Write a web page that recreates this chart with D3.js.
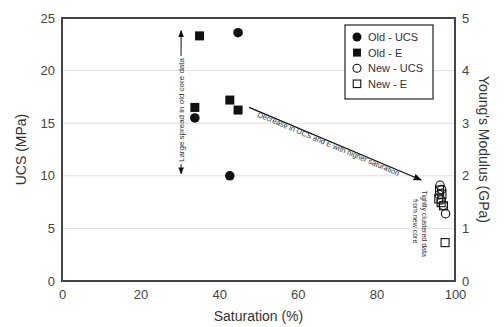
<!DOCTYPE html>
<html>
<head>
<meta charset="utf-8">
<script src="https://cdn.jsdelivr.net/npm/d3@7"></script>
<style>
  body { margin: 0; background: #fff; }
  svg { font-family: "Liberation Sans", Arial, sans-serif; }
  .grid line { stroke: #ddd; stroke-width: 1; }
  .tick text { fill: #444; font-size: 13px; }
</style>
</head>
<body>
<div id="chart"></div>
<script>
// data
var oldUcs = [[33.8, 15.5], [44.8, 23.6], [42.7, 10.0]];
var oldE = [[35.0, 4.66], [33.8, 3.30], [42.7, 3.44], [44.8, 3.25]];
var newUcs = [[96.2, 9.1], [96.6, 8.7], [96.0, 8.2], [96.5, 7.7], [97.0, 7.2], [97.6, 6.4]];
var newE = [[96.2, 1.72], [96.8, 1.64], [96.0, 1.55], [96.6, 1.48], [97.2, 1.42], [97.6, 0.72]];
var xTicks = [0, 20, 40, 60, 80, 100];
var ucsTicks = [0, 5, 10, 15, 20, 25];
var eTicks = [0, 1, 2, 3, 4, 5];
var legendLabels = ['Old - UCS', 'Old - E', 'New - UCS', 'New - E'];
//end data

var W = 504, H = 327;
var m = {left: 62, right: 49, top: 18, bottom: 46};

var svg = d3.select('#chart').append('svg')
    .attr('width', W).attr('height', H);

var x = d3.scaleLinear().domain([0, 100]).range([m.left, W - m.right]);
var yU = d3.scaleLinear().domain([0, 25]).range([H - m.bottom, m.top]);
var yE = d3.scaleLinear().domain([0, 5]).range([H - m.bottom, m.top]);

// gridlines
svg.append('g').attr('class', 'grid')
    .selectAll('line').data(ucsTicks.slice(1, -1))
    .enter().append('line')
    .attr('x1', x(0)).attr('x2', x(100))
    .attr('y1', function(d){ return yU(d); })
    .attr('y2', function(d){ return yU(d); });

// axes
var gx = svg.append('g').attr('transform', 'translate(0,' + yU(0) + ')')
    .call(d3.axisBottom(x).tickValues(xTicks).tickSize(0).tickPadding(9));
var gl = svg.append('g').attr('transform', 'translate(' + x(0) + ',0)')
    .call(d3.axisLeft(yU).tickValues(ucsTicks).tickSize(0).tickPadding(7));
var gr = svg.append('g').attr('transform', 'translate(' + x(100) + ',0)')
    .call(d3.axisRight(yE).tickValues(eTicks).tickFormat(d3.format('d')).tickSize(0).tickPadding(7));
[gx, gl, gr].forEach(function(g){ g.select('.domain').remove(); });

// frame
svg.append('rect')
    .attr('x', x(0)).attr('y', yU(25))
    .attr('width', x(100) - x(0)).attr('height', yU(0) - yU(25))
    .attr('fill', 'none').attr('stroke', '#444').attr('stroke-width', 2);

// axis titles
svg.append('text')
    .attr('transform', 'translate(26,' + (yU(12.5)) + ') rotate(-90)')
    .attr('text-anchor', 'middle').attr('font-size', 14).attr('fill', '#333')
    .text('UCS (MPa)');
svg.append('text')
    .attr('transform', 'translate(479,' + (yU(12.5)) + ') rotate(90)')
    .attr('text-anchor', 'middle').attr('font-size', 14).attr('fill', '#333')
    .text("Young's Modulus (GPa)");
svg.append('text')
    .attr('x', x(50)).attr('y', 321)
    .attr('text-anchor', 'middle').attr('font-size', 14).attr('fill', '#333')
    .text('Saturation (%)');

// arrow marker
var defs = svg.append('defs');
defs.append('marker')
    .attr('id', 'ah').attr('viewBox', '0 0 10 10')
    .attr('refX', 9).attr('refY', 5)
    .attr('markerWidth', 7).attr('markerHeight', 7)
    .attr('orient', 'auto-start-reverse')
    .append('path').attr('d', 'M0,1L10,5L0,9Z').attr('fill', '#111');

// annotation: vertical spread
var ax = x(30.3);
svg.append('line')
    .attr('x1', ax).attr('x2', ax)
    .attr('y1', yU(21.4)).attr('y2', yU(23.8))
    .attr('stroke', '#111').attr('marker-end', 'url(#ah)');
svg.append('line')
    .attr('x1', ax).attr('x2', ax)
    .attr('y1', yU(11.1)).attr('y2', yU(10.2))
    .attr('stroke', '#111').attr('marker-end', 'url(#ah)');
svg.append('text')
    .attr('transform', 'translate(' + (ax + 2.6) + ',' + yU(16.25) + ') rotate(-90)')
    .attr('text-anchor', 'middle').attr('font-size', 7.3).attr('fill', '#333')
    .attr('textLength', 104).attr('lengthAdjust', 'spacingAndGlyphs')
    .text('Large spread in old core data');

// annotation: diagonal trend
var p0 = [x(47.6), yU(16.5)], p1 = [x(91.4), yU(9.6)];
svg.append('line')
    .attr('x1', p0[0]).attr('y1', p0[1]).attr('x2', p1[0]).attr('y2', p1[1])
    .attr('stroke', '#111').attr('stroke-width', 1.2).attr('marker-end', 'url(#ah)');
var ang = Math.atan2(p1[1] - p0[1], p1[0] - p0[0]) * 180 / Math.PI;
svg.append('text')
    .attr('transform', 'translate(' + (p0[0] + 8) + ',' + (p0[1] + 9) + ') rotate(' + ang + ')')
    .attr('font-size', 7.5).attr('fill', '#333')
    .text('Decrease in UCS and E with higher saturation');

// annotation: new cluster
svg.append('text')
    .attr('transform', 'translate(' + x(91.6) + ',' + yU(8.6) + ') rotate(90)')
    .attr('font-size', 7).attr('fill', '#333')
    .text('Tightly clustered data');
svg.append('text')
    .attr('transform', 'translate(' + x(89.3) + ',' + yU(7.8) + ') rotate(90)')
    .attr('font-size', 7).attr('fill', '#333')
    .text('from new core');

// points
var sym = 9;
function drawSquares(data, yScale, filled){
    svg.append('g').selectAll('rect').data(data)
        .enter().append('rect')
        .attr('x', function(d){ return x(d[0]) - sym / 2; })
        .attr('y', function(d){ return yScale(d[1]) - sym / 2; })
        .attr('width', filled ? sym : sym - 1).attr('height', filled ? sym : sym - 1)
        .attr('fill', filled ? '#111' : 'none')
        .attr('stroke', '#111').attr('stroke-width', filled ? 0 : 1.1);
}
function drawCircles(data, yScale, filled){
    svg.append('g').selectAll('circle').data(data)
        .enter().append('circle')
        .attr('cx', function(d){ return x(d[0]); })
        .attr('cy', function(d){ return yScale(d[1]); })
        .attr('r', filled ? 4.8 : 4.2)
        .attr('fill', filled ? '#111' : 'none')
        .attr('stroke', '#111').attr('stroke-width', filled ? 0 : 1.1);
}
drawSquares(newE, yE, false);
drawCircles(newUcs, yU, false);
drawSquares(oldE, yE, true);
drawCircles(oldUcs, yU, true);

// legend
var lg = svg.append('g');
lg.append('rect')
    .attr('x', 345).attr('y', 25).attr('width', 88).attr('height', 74)
    .attr('fill', '#fff').attr('stroke', '#333').attr('stroke-width', 1.3);
legendLabels.forEach(function(lab, i){
    var cy = 37 + i * 15.6, cx = 357;
    if (i % 2 === 0) {
        lg.append('circle').attr('cx', cx).attr('cy', cy).attr('r', i === 0 ? 4.5 : 4)
            .attr('fill', i === 0 ? '#111' : 'none').attr('stroke', '#111').attr('stroke-width', i === 0 ? 0 : 1.1);
    } else {
        var s = i === 1 ? 8 : 7.5;
        lg.append('rect').attr('x', cx - s / 2).attr('y', cy - s / 2).attr('width', s).attr('height', s)
            .attr('fill', i === 1 ? '#111' : 'none').attr('stroke', '#111').attr('stroke-width', i === 1 ? 0 : 1.1);
    }
    lg.append('text').attr('x', 368).attr('y', cy + 4)
        .attr('font-size', 11).attr('fill', '#333').text(lab);
});
</script>
</body>
</html>
